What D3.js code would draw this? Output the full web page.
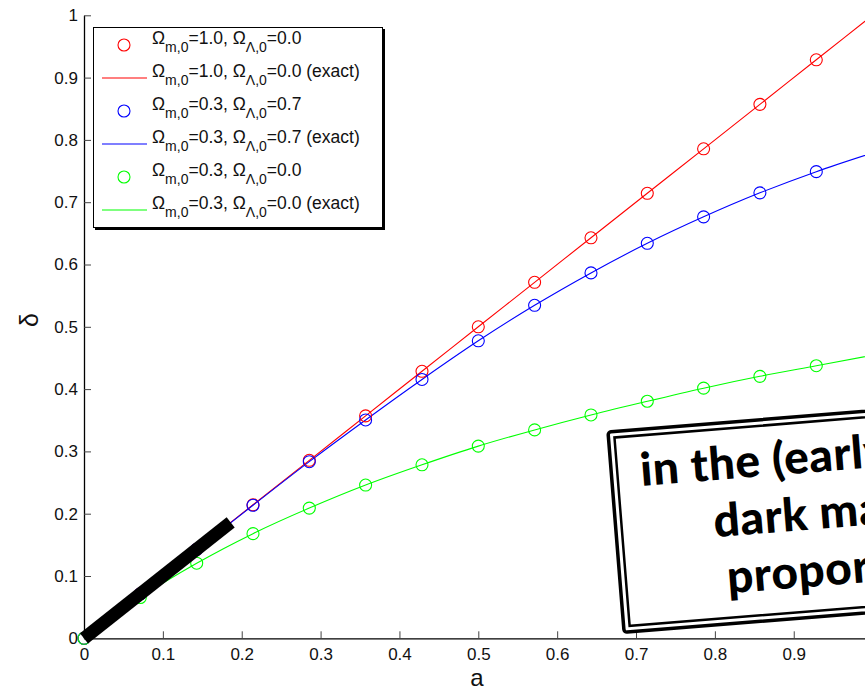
<!DOCTYPE html>
<html>
<head>
<meta charset="utf-8">
<script src="https://cdn.jsdelivr.net/npm/d3@7"></script>
<style>
  html, body { margin: 0; padding: 0; background: #fff; }
  svg { display: block; font-family: "Liberation Sans", Arial, Helvetica, sans-serif; }
</style>
</head>
<body>
<svg id="chart" width="865" height="689"></svg>
<script>
// scale factor a, sampled at a = k/14
const aGrid = [0, 0.0714, 0.1429, 0.2143, 0.2857, 0.3571, 0.4286, 0.5, 0.5714, 0.6429, 0.7143, 0.7857, 0.8571, 0.9286, 1.0];
// growth of the density contrast for three cosmologies
const deltaEdS  = [0, 0.0714, 0.1429, 0.2143, 0.2857, 0.3571, 0.4286, 0.5, 0.5714, 0.6429, 0.7143, 0.7857, 0.8571, 0.9286, 1.0];
const deltaLCDM = [0, 0.0714, 0.1427, 0.2135, 0.2835, 0.3505, 0.4155, 0.4775, 0.5345, 0.5865, 0.634, 0.6765, 0.715, 0.749, 0.779];
const deltaOpen = [0, 0.0655, 0.1205, 0.168, 0.209, 0.246, 0.2785, 0.3085, 0.3345, 0.3585, 0.3805, 0.4015, 0.4205, 0.4375, 0.4545];
// thick segment marking the early-time linear regime
const earlyA     = [0, 0.186];
const earlyDelta = [0, 0.186];

const xTicks = [0, 0.1, 0.2, 0.3, 0.4, 0.5, 0.6, 0.7, 0.8, 0.9, 1];
const xTickLabels = ["0", "0.1", "0.2", "0.3", "0.4", "0.5", "0.6", "0.7", "0.8", "0.9", "1"];
const yTicks = [0, 0.1, 0.2, 0.3, 0.4, 0.5, 0.6, 0.7, 0.8, 0.9, 1];
const yTickLabels = ["0", "0.1", "0.2", "0.3", "0.4", "0.5", "0.6", "0.7", "0.8", "0.9", "1"];

const seriesNames = [
  { om: "1.0", ol: "0.0" },
  { om: "0.3", ol: "0.7" },
  { om: "0.3", ol: "0.0" }
];
const seriesColors = ["#ff0000", "#0000ff", "#00ff00"];
const seriesValues = [deltaEdS, deltaLCDM, deltaOpen];

const noteLines = ["in the (early) universe,", "dark matter grows", "proportional to a"];

const svg = d3.select("#chart");
const x = d3.scaleLinear().domain([0, 1]).range([84, 872.6]);
const y = d3.scaleLinear().domain([0, 1]).range([638.3, 15.3]);

// axes with inward ticks
const xAxis = d3.axisBottom(x).tickValues(xTicks)
  .tickFormat((d, i) => xTickLabels[i]).tickSizeInner(-7).tickSizeOuter(0).tickPadding(10);
const yAxis = d3.axisLeft(y).tickValues(yTicks)
  .tickFormat((d, i) => yTickLabels[i]).tickSizeInner(-7).tickSizeOuter(0).tickPadding(6);

const gx = svg.append("g").attr("transform", `translate(0,${y(0)})`).call(xAxis);
const gy = svg.append("g").attr("transform", `translate(${x(0)},0)`).call(yAxis);
[gx, gy].forEach(g => {
  g.selectAll("text").attr("font-size", 17).attr("fill", "#111")
    .attr("font-family", "'Liberation Sans', Arial, sans-serif");
  g.select(".domain").attr("stroke", "#000").attr("stroke-width", 1.3);
  g.selectAll(".tick line").attr("stroke", "#444").attr("stroke-width", 1);
});

// axis titles
svg.append("text").attr("x", 477).attr("y", 686).attr("text-anchor", "middle")
  .attr("font-size", 24).attr("fill", "#111").text("a");
svg.append("text").attr("transform", "translate(38,320) rotate(-90)")
  .attr("text-anchor", "middle").attr("font-size", 25).attr("fill", "#111").text("δ");

// curves and markers
const line = d3.line().x(d => x(d[0])).y(d => y(d[1])).curve(d3.curveMonotoneX);
seriesValues.forEach((vals, s) => {
  const pts = aGrid.map((a, i) => [a, vals[i]]);
  svg.append("path").datum(pts).attr("d", line)
    .attr("fill", "none").attr("stroke", seriesColors[s]).attr("stroke-width", 1.1);
});
seriesValues.forEach((vals, s) => {
  svg.append("g").selectAll("circle").data(aGrid.map((a, i) => [a, vals[i]])).join("circle")
    .attr("cx", d => x(d[0])).attr("cy", d => y(d[1])).attr("r", 6)
    .attr("fill", "none").attr("stroke", seriesColors[s]).attr("stroke-width", 1.1);
});

// thick early-time segment
svg.append("line")
  .attr("x1", x(earlyA[0])).attr("y1", y(earlyDelta[0]))
  .attr("x2", x(earlyA[1])).attr("y2", y(earlyDelta[1]))
  .attr("stroke", "#000").attr("stroke-width", 13).attr("stroke-linecap", "butt");

// legend
const lg = svg.append("g");
lg.append("rect").attr("x", 95).attr("y", 29).attr("width", 290).attr("height", 201).attr("fill", "#000");
lg.append("rect").attr("x", 93.5).attr("y", 27.5).attr("width", 289).attr("height", 200)
  .attr("fill", "#fff").attr("stroke", "#000").attr("stroke-width", 1);
const rowY0 = 44, rowStep = 33;
const entries = [];
seriesNames.forEach((n, s) => {
  entries.push({ kind: "marker", s, n, suffix: "" });
  entries.push({ kind: "line", s, n, suffix: " (exact)" });
});
entries.forEach((e, i) => {
  const by = rowY0 + i * rowStep;
  if (e.kind === "marker") {
    lg.append("circle").attr("cx", 124).attr("cy", by + 1).attr("r", 6)
      .attr("fill", "none").attr("stroke", seriesColors[e.s]).attr("stroke-width", 1.1);
  } else {
    lg.append("line").attr("x1", 102).attr("x2", 147).attr("y1", by + 1).attr("y2", by + 1)
      .attr("stroke", seriesColors[e.s]).attr("stroke-width", 1.1);
  }
  const t = lg.append("text").attr("x", 152).attr("y", by).attr("font-size", 17.5).attr("fill", "#111");
  t.append("tspan").text("Ω");
  t.append("tspan").attr("dy", 8).attr("font-size", 14).text("m,0");
  t.append("tspan").attr("dy", -8).text(`=${e.n.om}, Ω`);
  t.append("tspan").attr("dy", 8).attr("font-size", 14).text("Λ,0");
  t.append("tspan").attr("dy", -8).text(`=${e.n.ol}${e.suffix}`);
});

// tilted note
const note = svg.append("g").attr("transform", "translate(608,432) rotate(-4.6)");
note.append("rect").attr("x", 0).attr("y", 0).attr("width", 420).attr("height", 201).attr("rx", 3)
  .attr("fill", "#fff").attr("stroke", "#000").attr("stroke-width", 3.5);
note.append("rect").attr("x", 6).attr("y", 6).attr("width", 408).attr("height", 189)
  .attr("fill", "none").attr("stroke", "#000").attr("stroke-width", 2.5);
const noteX = [29, 98, 107];
noteLines.forEach((s, i) => {
  note.append("text").attr("x", noteX[i]).attr("y", 56.5 + i * 57)
    .attr("font-family", "Lato, 'Open Sans', sans-serif").attr("font-weight", 900)
    .attr("font-size", 46).attr("letter-spacing", 0.6).attr("fill", "#000").text(s);
});
</script>
</body>
</html>
